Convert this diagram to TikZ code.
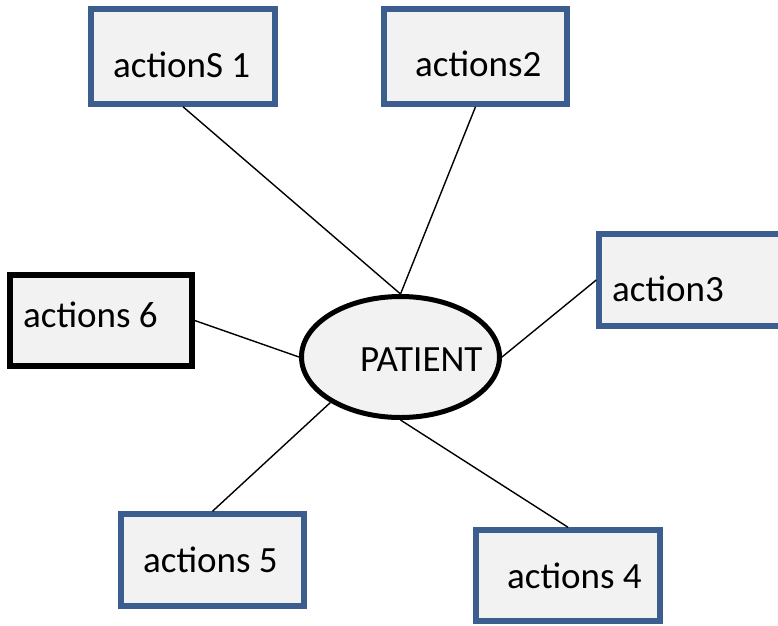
\documentclass[tikz,border=0pt]{standalone}
\usepackage{fontspec}
\setmainfont{Carlito}
\usetikzlibrary{shapes.geometric}
\definecolor{boxblue}{HTML}{3B5E8F}
\definecolor{boxfill}{HTML}{F2F2F2}
\begin{document}
\begin{tikzpicture}[x = 1pt, y = -1pt,
		action/.style = {draw = boxblue, fill = boxfill, line width = 5.5pt, inner sep = 0pt},
		word/.style = {anchor = base west, inner sep = 0pt, font = \fontsize{37}{44}\selectfont}]
			\useasboundingbox (0,0) rectangle (778,625);
			%centre
			\node[draw, fill = boxfill, ellipse, line width = 5pt, minimum width = 198pt, minimum height = 121pt] (pat) at (400.5,357) {};
			\node[word] (patw) at (360,371) {PATIENT};
			%boxes
			\node[action, minimum width = 184pt, minimum height = 95pt] (act1) at (183,56.5) {};
			\node[action, minimum width = 183pt, minimum height = 95pt] (act2) at (475.5,56.5) {};
			\node[action, minimum width = 190pt, minimum height = 92pt] (act3) at (694,280) {};
			\node[action, minimum width = 184pt, minimum height = 91pt] (act4) at (568,575.5) {};
			\node[action, minimum width = 183pt, minimum height = 92pt] (act5) at (212.5,560) {};
			\node[action, draw = black, minimum width = 182pt, minimum height = 91pt] (act6) at (101,320.5) {};
			%labels
			\node[word] (act1w) at (113,77) {actionS 1};
			\node[word] (act2w) at (415,76) {actions2};
			\node[word] (act3w) at (612,301) {action3};
			\node[word] (act4w) at (507,588) {actions 4};
			\node[word] (act5w) at (143,572) {actions 5};
			\node[word] (act6w) at (23,327) {actions 6};
			%spokes
			\draw[line width = 1.4pt] (act1.south) -- (pat.north);
			\draw[line width = 1.4pt] (act2.south) -- (pat.north);
			\draw[line width = 1.4pt] (act3.west) -- (pat.east);
			\draw[line width = 1.4pt] (act4.north) -- (pat.south);
			\draw[line width = 1.4pt] (act5.north) -- (pat.213);
			\draw[line width = 1.4pt] (act6.east) -- (pat.west);
		\end{tikzpicture}
\end{document}
